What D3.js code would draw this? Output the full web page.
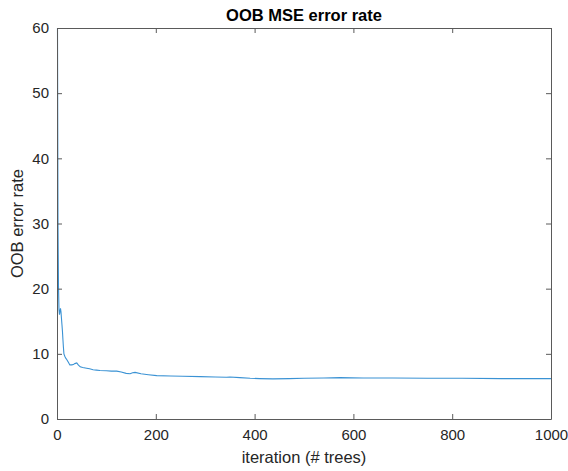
<!DOCTYPE html>
<html>
<head>
<meta charset="utf-8">
<script src="https://cdn.jsdelivr.net/npm/d3@7"></script>
<style>
  body { margin: 0; background: #fff; }
  text { font-family: "Liberation Sans", Arial, Helvetica, sans-serif; }
</style>
</head>
<body>
<svg id="chart" width="568" height="471"></svg>
<script>
// Data (iteration, OOB MSE)
const iterations = [1, 2, 3, 4, 5, 6, 7, 8, 9, 10, 11, 12, 13, 14, 16, 18, 20, 23, 26, 30, 33, 36, 40, 43, 47, 52, 60, 66, 73, 80, 87, 100, 110, 121, 130, 140, 148, 153, 158, 170, 185, 202, 230, 255, 290, 320, 343, 350, 370, 391, 410, 437, 470, 500, 540, 573, 620, 680, 750, 820, 900, 950, 1000];
const oobError   = [60, 30, 20.5, 16.8, 16, 16.5, 17, 16.5, 15.5, 14.5, 13.5, 12.2, 11, 10, 9.6, 9.3, 9.1, 8.7, 8.3, 8.3, 8.35, 8.5, 8.6, 8.3, 8.0, 7.9, 7.8, 7.7, 7.55, 7.5, 7.45, 7.4, 7.35, 7.35, 7.2, 7.0, 6.95, 7.1, 7.15, 6.95, 6.8, 6.65, 6.6, 6.55, 6.5, 6.45, 6.4, 6.45, 6.35, 6.25, 6.2, 6.15, 6.2, 6.25, 6.3, 6.35, 6.3, 6.3, 6.25, 6.25, 6.2, 6.2, 6.2];
const xTicks = [0, 200, 400, 600, 800, 1000];
const yTicks = [0, 10, 20, 30, 40, 50, 60];
const titleText = "OOB MSE error rate";
const xLabel = "iteration (# trees)";
const yLabel = "OOB error rate";

const svg = d3.select("#chart");
const L = 57, R = 551, T = 28, B = 419;
const x = d3.scaleLinear().domain([0, 1000]).range([L, R]);
const y = d3.scaleLinear().domain([0, 60]).range([B, T]);
const axisColor = "#5a5a5a";
const textColor = "#262626";

// line
const data = iterations.map((d, i) => [d, oobError[i]]);
svg.append("path")
  .datum(data)
  .attr("fill", "none")
  .attr("stroke", "#3a92d4")
  .attr("stroke-width", 1.1)
  .attr("d", d3.line().x(d => x(d[0])).y(d => y(d[1])));

function styleAxis(g) {
  g.select(".domain").attr("stroke", axisColor);
  g.selectAll(".tick line").attr("stroke", axisColor);
  g.selectAll(".tick text").attr("fill", textColor).style("font-size", "15px");
}

// bottom
svg.append("g").attr("transform", `translate(0,${B})`)
  .call(d3.axisBottom(x).tickValues(xTicks).tickSizeInner(-5).tickSizeOuter(0).tickPadding(10).tickFormat(d3.format("d")))
  .call(styleAxis);
// top
svg.append("g").attr("transform", `translate(0,${T})`)
  .call(d3.axisTop(x).tickValues(xTicks).tickSizeInner(-5).tickSizeOuter(0).tickFormat(""))
  .call(styleAxis);
// left
svg.append("g").attr("transform", `translate(${L},0)`)
  .call(d3.axisLeft(y).tickValues(yTicks).tickSizeInner(-5).tickSizeOuter(0).tickPadding(8).tickFormat(d3.format("d")))
  .call(styleAxis);
// right
svg.append("g").attr("transform", `translate(${R},0)`)
  .call(d3.axisRight(y).tickValues(yTicks).tickSizeInner(-5).tickSizeOuter(0).tickFormat(""))
  .call(styleAxis);

svg.selectAll("g").attr("font-family", null);

// title
svg.append("text")
  .attr("x", (L + R) / 2).attr("y", 21)
  .attr("text-anchor", "middle")
  .style("font-size", "16.5px").style("font-weight", "bold")
  .attr("fill", "#000")
  .text(titleText);

// x label
svg.append("text")
  .attr("x", (L + R) / 2).attr("y", 463)
  .attr("text-anchor", "middle")
  .style("font-size", "16.5px")
  .attr("fill", textColor)
  .text(xLabel);

// y label
svg.append("text")
  .attr("transform", `translate(23,${(T + B) / 2}) rotate(-90)`)
  .attr("text-anchor", "middle")
  .style("font-size", "16.5px")
  .attr("fill", textColor)
  .text(yLabel);
</script>
</body>
</html>
